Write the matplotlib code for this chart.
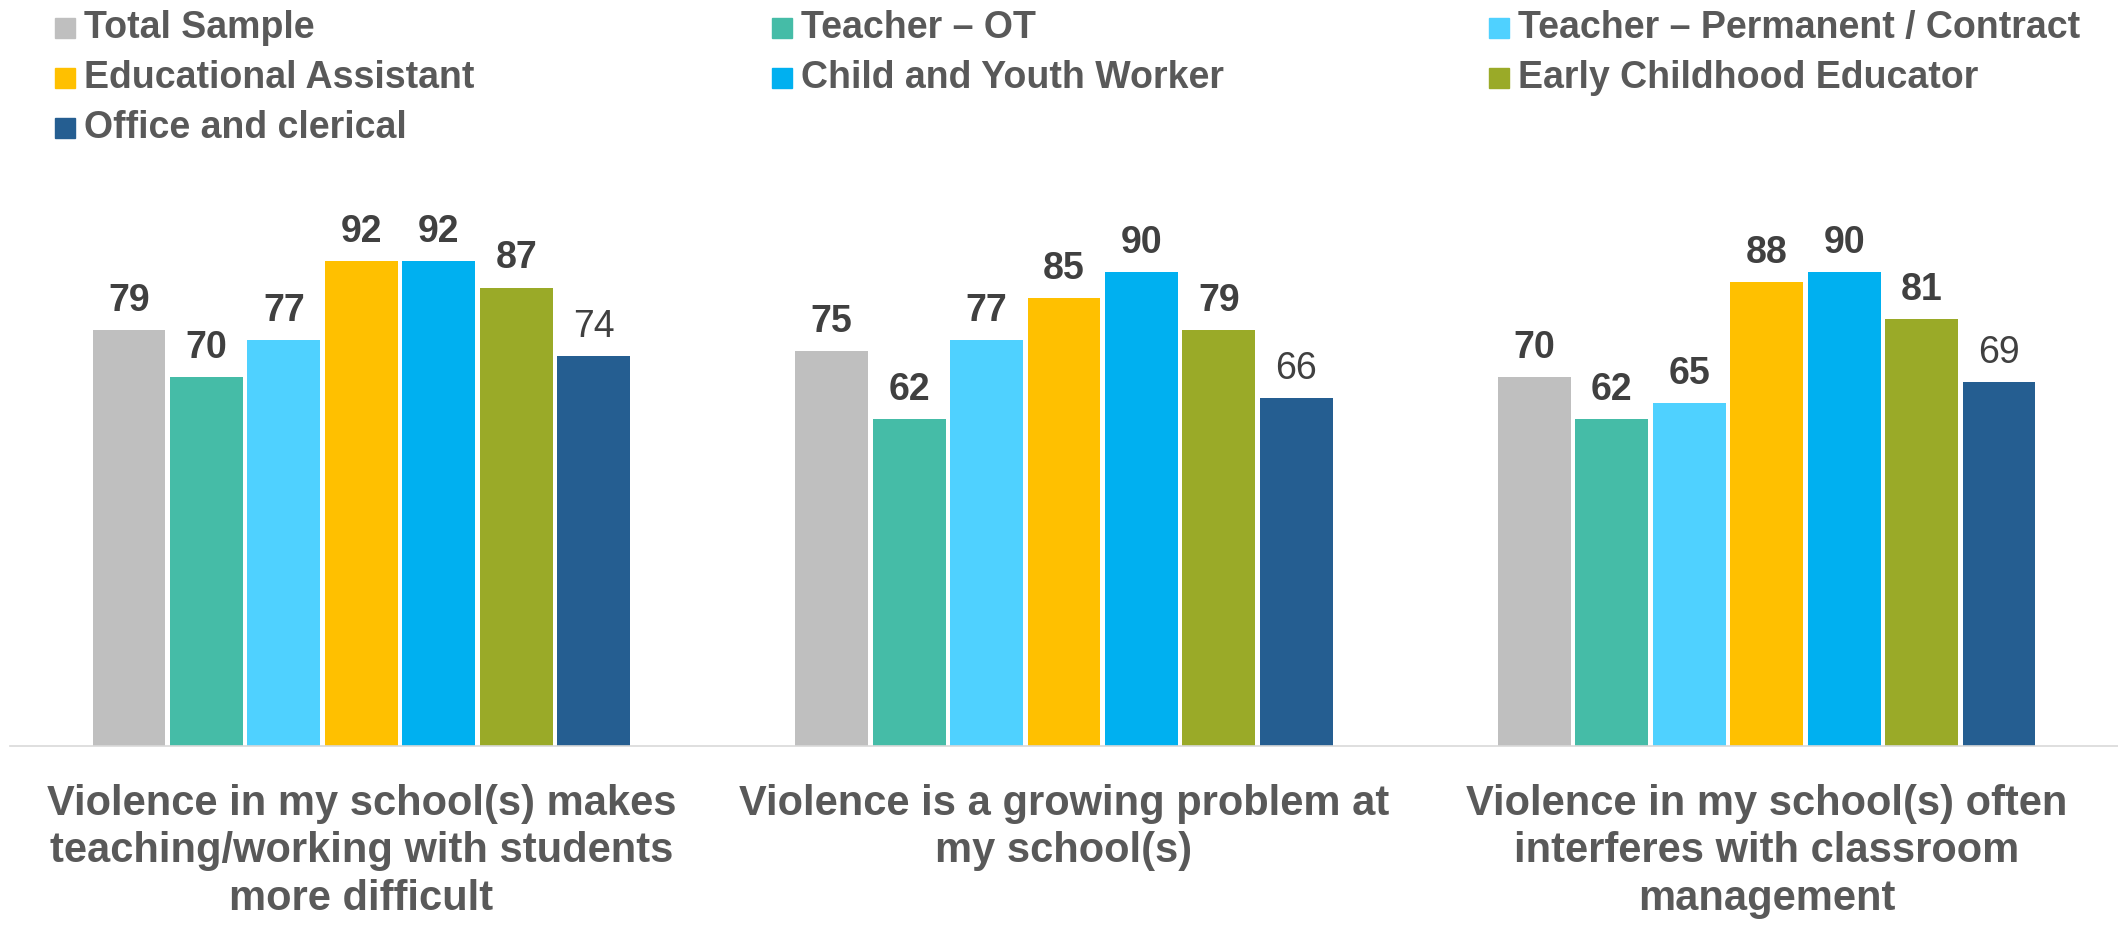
import numpy as np
import matplotlib
matplotlib.use('Agg')
import matplotlib.pyplot as plt
from matplotlib.patches import Rectangle

plt.rcParams['font.family'] = ['Liberation Sans', 'DejaVu Sans']

categories = [
    'Violence in my school(s) makes\nteaching/working with students\nmore difficult',
    'Violence is a growing problem at\nmy school(s)',
    'Violence in my school(s) often\ninterferes with classroom\nmanagement',
]
series = ['Total Sample', 'Teacher \u2013 OT', 'Teacher \u2013 Permanent / Contract',
          'Educational Assistant', 'Child and Youth Worker', 'Early Childhood Educator',
          'Office and clerical']
colors = ['#BFBFBF', '#45BCA7', '#4FD1FF', '#FFC000', '#00B0F0', '#9AAA28', '#255E91']

total_sample = [79, 75, 70]
teacher_ot = [70, 62, 62]
teacher_perm = [77, 77, 65]
edu_assistant = [92, 85, 88]
child_youth = [92, 90, 90]
early_childhood = [87, 79, 81]
office_clerical = [74, 66, 69]
values = [total_sample, teacher_ot, teacher_perm, edu_assistant,
          child_youth, early_childhood, office_clerical]

W, H = 2118, 926
fig = plt.figure(figsize=(W / 100, H / 100), dpi=100)
ax = fig.add_axes([10 / W, (H - 746) / H, (W - 10) / W, 527 / H])

x = np.arange(len(categories))
step = 0.1102
width = 0.1037
for j, (name, vals, c) in enumerate(zip(series, values, colors)):
    bars = ax.bar(x + (j - 3) * step, vals, width, color=c, label=name, zorder=2)
    bold = j < len(series) - 1
    ax.bar_label(bars, padding=8, fontsize=27, color='#404040',
                 fontweight='bold' if bold else 'normal')

ax.set_xlim(-0.5, 2.5)
ax.set_ylim(0, 100)
ax.set_yticks([])
ax.set_xticks(x)
ax.set_xticklabels(categories, fontsize=30, fontweight='bold', color='#595959',
                   linespacing=1.25)
ax.tick_params(axis='x', length=0, pad=27)
for s in ['top', 'right', 'left']:
    ax.spines[s].set_visible(False)
ax.spines['bottom'].set_color('#D9D9D9')
ax.spines['bottom'].set_linewidth(1.2)

# legend, Excel style: three equal columns
col_w = 717
for i, (name, c) in enumerate(zip(series, colors)):
    col, row = i % 3, i // 3
    lx = 55 + col * col_w
    ly = 28 + row * 50
    fig.patches.append(Rectangle(((lx) / W, (H - ly - 10) / H), 20 / W, 20 / H,
                                 transform=fig.transFigure, color=c))
    fig.text((lx + 29) / W, (H - ly) / H, name, fontsize=27, fontweight='bold',
             color='#595959', va='center', ha='left')

fig.savefig('out.png', dpi=100)
